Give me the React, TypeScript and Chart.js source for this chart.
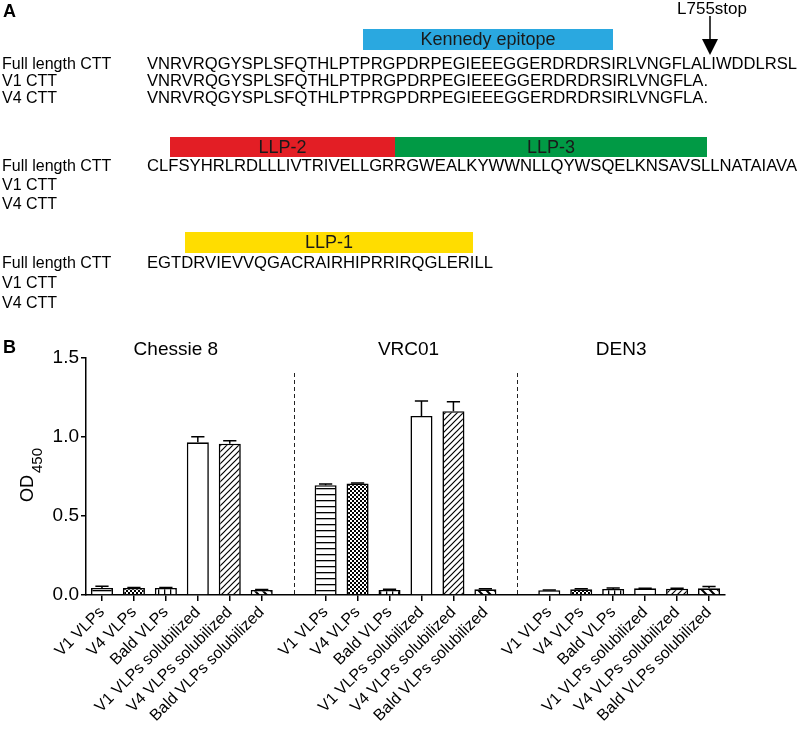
import React, { useEffect, useRef } from 'react';
import { Chart, registerables } from 'chart.js';

Chart.register(...registerables);

// ---------- Panel A data ----------
const rowLabels = ['Full length CTT', 'V1 CTT', 'V4 CTT'];
const block1Seqs = [
  'VNRVRQGYSPLSFQTHLPTPRGPDRPEGIEEEGGERDRDRSIRLVNGFLALIWDDLRSL',
  'VNRVRQGYSPLSFQTHLPTPRGPDRPEGIEEEGGERDRDRSIRLVNGFLA.',
  'VNRVRQGYSPLSFQTHLPTPRGPDRPEGIEEEGGERDRDRSIRLVNGFLA.',
];
const block2Seqs = ['CLFSYHRLRDLLLIVTRIVELLGRRGWEALKYWWNLLQYWSQELKNSAVSLLNATAIAVA', '', ''];
const block3Seqs = ['EGTDRVIEVVQGACRAIRHIPRRIRQGLERILL', '', ''];
const domainNames = ['Kennedy epitope', 'LLP-2', 'LLP-3', 'LLP-1'];
const stopLabel = 'L755stop';

// ---------- Panel B data ----------
const groups = ['Chessie 8', 'VRC01', 'DEN3'];
const categories = [
  'V1 VLPs',
  'V4 VLPs',
  'Bald VLPs',
  'V1 VLPs solubilized',
  'V4 VLPs solubilized',
  'Bald VLPs solubilized',
];
const chessieValues = [0.045, 0.045, 0.045, 0.966, 0.958, 0.032];
const chessieErrors = [0.01, 0.003, 0.002, 0.035, 0.018, 0.003];
const vrc01Values = [0.695, 0.705, 0.032, 1.133, 1.163, 0.036];
const vrc01Errors = [0.008, 0.004, 0.004, 0.095, 0.06, 0.004];
const den3Values = [0.03, 0.036, 0.038, 0.042, 0.04, 0.042];
const den3Errors = [0.002, 0.003, 0.006, 0.001, 0.003, 0.012];
const yTickValues = [0, 0.5, 1.0, 1.5];
const patternKinds = ['hlines', 'checker', 'vlines', 'none', 'diagFwd', 'diagBack'];

const FONT = "'Liberation Sans', Arial, Helvetica, sans-serif";

function makePattern(kind: string): CanvasPattern | string {
  if (kind === 'none') return '#ffffff';
  const c = document.createElement('canvas');
  let s = 6;
  if (kind === 'checker') s = 4;
  if (kind === 'diagBack') s = 8;
  c.width = s;
  c.height = s;
  const g = c.getContext('2d')!;
  g.fillStyle = '#ffffff';
  g.fillRect(0, 0, s, s);
  g.fillStyle = '#000000';
  g.strokeStyle = '#000000';
  if (kind === 'hlines') {
    g.fillRect(0, 2, s, 1.3);
  } else if (kind === 'vlines') {
    g.fillRect(2, 0, 1.3, s);
  } else if (kind === 'checker') {
    g.fillRect(0, 0, 2, 2);
    g.fillRect(2, 2, 2, 2);
  } else if (kind === 'diagFwd') {
    g.lineWidth = 1.2;
    g.beginPath();
    g.moveTo(0, s);
    g.lineTo(s, 0);
    g.moveTo(-1, 1);
    g.lineTo(1, -1);
    g.moveTo(s - 1, s + 1);
    g.lineTo(s + 1, s - 1);
    g.stroke();
  } else if (kind === 'diagBack') {
    g.lineWidth = 2;
    g.beginPath();
    g.moveTo(0, 0);
    g.lineTo(s, s);
    g.moveTo(-1, s - 1);
    g.lineTo(1, s + 1);
    g.moveTo(s - 1, -1);
    g.lineTo(s + 1, 1);
    g.stroke();
  }
  const ctx2 = document.createElement('canvas').getContext('2d')!;
  return ctx2.createPattern(c, 'repeat')!;
}

function fitText(ctx: CanvasRenderingContext2D, text: string, x: number, y: number, width: number) {
  const w = ctx.measureText(text).width;
  ctx.save();
  ctx.translate(x, y);
  ctx.scale(width / w, 1);
  ctx.textAlign = 'left';
  ctx.fillText(text, 0, 0);
  ctx.restore();
}

function drawPanelA(ctx: CanvasRenderingContext2D) {
  ctx.save();
  ctx.fillStyle = '#000';
  ctx.textBaseline = 'middle';
  ctx.font = `bold 18px ${FONT}`;
  ctx.textAlign = 'left';
  ctx.fillText('A', 3, 12);

  // domain bars
  const bars = [
    { name: domainNames[0], x0: 363, x1: 613, y0: 29, y1: 50, color: '#2aa8e0' },
    { name: domainNames[1], x0: 170, x1: 395, y0: 137, y1: 157, color: '#e31e25' },
    { name: domainNames[2], x0: 395, x1: 707, y0: 137, y1: 157, color: '#019a45' },
    { name: domainNames[3], x0: 185, x1: 473, y0: 232, y1: 253, color: '#ffdd00' },
  ];
  bars.forEach((b) => {
    ctx.fillStyle = b.color;
    ctx.fillRect(b.x0, b.y0, b.x1 - b.x0, b.y1 - b.y0);
    ctx.fillStyle = '#1a1a1a';
    ctx.font = `18px ${FONT}`;
    ctx.textAlign = 'center';
    ctx.fillText(b.name, (b.x0 + b.x1) / 2, (b.y0 + b.y1) / 2 + 1);
  });

  // stop arrow
  ctx.fillStyle = '#000';
  ctx.font = `17px ${FONT}`;
  ctx.textAlign = 'center';
  ctx.fillText(stopLabel, 712, 9);
  ctx.strokeStyle = '#000';
  ctx.lineWidth = 1.5;
  ctx.beginPath();
  ctx.moveTo(710, 16);
  ctx.lineTo(710, 42);
  ctx.stroke();
  ctx.beginPath();
  ctx.moveTo(702, 39);
  ctx.lineTo(718, 39);
  ctx.lineTo(710, 55);
  ctx.closePath();
  ctx.fill();

  // rows
  ctx.font = `16px ${FONT}`;
  ctx.textAlign = 'left';
  const rowYs = [
    [65, 82, 98.5],
    [166.5, 186, 205],
    [264, 284, 304],
  ];
  const blocks = [block1Seqs, block2Seqs, block3Seqs];
  const widths = [
    [650, 561, 561],
    [650, 0, 0],
    [346, 0, 0],
  ];
  blocks.forEach((blk, bi) => {
    rowLabels.forEach((lab, ri) => {
      const y = rowYs[bi][ri];
      ctx.fillText(lab, 2, y);
      if (blk[ri]) fitText(ctx, blk[ri], 147, y, widths[bi][ri]);
    });
  });
  ctx.restore();
}

const App: React.FC = () => {
  const ref = useRef<HTMLCanvasElement | null>(null);

  useEffect(() => {
    if (!ref.current) return;
    const labels: string[] = [];
    const values: (number | null)[] = [];
    const errors: (number | null)[] = [];
    const colors: (CanvasPattern | string)[] = [];
    const pats = patternKinds.map(makePattern);
    const groupVals = [chessieValues, vrc01Values, den3Values];
    const groupErrs = [chessieErrors, vrc01Errors, den3Errors];
    const separators: number[] = [];
    groupVals.forEach((vals, gi) => {
      if (gi > 0) {
        separators.push(labels.length);
        labels.push('');
        values.push(null);
        errors.push(null);
        colors.push('#fff');
      }
      vals.forEach((v, i) => {
        labels.push(categories[i]);
        values.push(v);
        errors.push(groupErrs[gi][i]);
        colors.push(pats[i]);
      });
    });

    const panelAPlugin = {
      id: 'panelA',
      beforeDraw(chart: any) {
        const ctx = chart.ctx as CanvasRenderingContext2D;
        ctx.save();
        ctx.fillStyle = '#fff';
        ctx.fillRect(0, 0, chart.width, chart.height);
        ctx.restore();
        drawPanelA(ctx);
      },
    };

    const titleShift = [-6, 3, -8];

    const decorPlugin = {
      id: 'decor',
      afterDatasetsDraw(chart: any) {
        const ctx = chart.ctx as CanvasRenderingContext2D;
        const xs = chart.scales.x;
        const ys = chart.scales.y;
        const meta = chart.getDatasetMeta(0);
        ctx.save();
        // error bars
        ctx.strokeStyle = '#000';
        ctx.lineWidth = 1.5;
        values.forEach((v, i) => {
          const e = errors[i];
          if (v == null || e == null || e <= 0) return;
          const bar = meta.data[i];
          const yTop = ys.getPixelForValue(v + e);
          const cap = bar.width * 0.3;
          ctx.beginPath();
          ctx.moveTo(bar.x, bar.y);
          ctx.lineTo(bar.x, yTop);
          ctx.moveTo(bar.x - cap, yTop);
          ctx.lineTo(bar.x + cap, yTop);
          ctx.stroke();
        });
        // dashed separators
        ctx.setLineDash([4, 3]);
        ctx.lineWidth = 1;
        ctx.strokeStyle = '#222';
        separators.forEach((si) => {
          const x = Math.round(xs.getPixelForValue(si)) + 0.5;
          ctx.beginPath();
          ctx.moveTo(x, ys.getPixelForValue(1.405));
          ctx.lineTo(x, chart.chartArea.bottom);
          ctx.stroke();
        });
        ctx.setLineDash([]);
        // group titles
        ctx.fillStyle = '#000';
        ctx.font = `19px ${FONT}`;
        ctx.textAlign = 'center';
        ctx.textBaseline = 'middle';
        groups.forEach((g, gi) => {
          const first = gi * 7;
          const last = first + 5;
          const cx = (xs.getPixelForValue(first) + xs.getPixelForValue(last)) / 2;
          ctx.fillText(g, cx + titleShift[gi], chart.chartArea.top - 8);
        });
        // panel label B
        ctx.font = `bold 18px ${FONT}`;
        ctx.textAlign = 'left';
        ctx.fillText('B', 3, chart.chartArea.top - 10);
        // y title OD450
        ctx.save();
        ctx.translate(33, 502);
        ctx.rotate(-Math.PI / 2);
        ctx.textAlign = 'left';
        ctx.textBaseline = 'alphabetic';
        ctx.font = `18px ${FONT}`;
        ctx.fillText('OD', 0, 0);
        const w = ctx.measureText('OD').width;
        ctx.font = `15px ${FONT}`;
        ctx.fillText('450', w + 2, 9);
        ctx.restore();
        ctx.restore();
      },
    };

    const chart = new Chart(ref.current, {
      type: 'bar',
      data: {
        labels,
        datasets: [
          {
            data: values as any,
            backgroundColor: colors as any,
            borderColor: '#000',
            borderWidth: 1.6,
            categoryPercentage: 1,
            barPercentage: 0.69,
          },
        ],
      },
      options: {
        animation: false,
        responsive: false,
        maintainAspectRatio: false,
        devicePixelRatio: 1,
        layout: { padding: { top: 358, left: 0, right: 75, bottom: 0 } },
        plugins: {
          legend: { display: false },
          tooltip: { enabled: false },
        },
        scales: {
          x: {
            offset: true,
            afterFit: (s: any) => {
              s.height = 135;
            },
            grid: {
              offset: false,
              drawOnChartArea: false,
              drawTicks: true,
              tickLength: 6,
              lineWidth: 1.5,
              color: (c: any) => (separators.includes(c.index) ? 'rgba(0,0,0,0)' : '#000'),
            },
            border: { display: true, color: '#000', width: 1.5 },
            ticks: {
              autoSkip: false,
              maxRotation: 45,
              minRotation: 45,
              padding: 2,
              color: '#000',
              font: { family: FONT, size: 16 },
            },
          },
          y: {
            min: 0,
            max: 1.5,
            afterFit: (s: any) => {
              s.width = 86;
            },
            afterBuildTicks: (s: any) => {
              s.ticks = yTickValues.map((v) => ({ value: v }));
            },
            grid: {
              drawOnChartArea: false,
              drawTicks: true,
              tickLength: 5,
              lineWidth: 1.5,
              color: '#000',
            },
            border: { display: true, color: '#000', width: 1.5 },
            ticks: {
              padding: 2,
              color: '#000',
              font: { family: FONT, size: 19 },
              callback: (v: any) => Number(v).toFixed(1),
            },
          },
        },
      },
      plugins: [panelAPlugin, decorPlugin],
    });
    return () => chart.destroy();
  }, []);

  return (
    <div style={{ position: 'absolute', left: 0, top: 0, width: 800, height: 730, background: '#fff' }}>
      <canvas ref={ref} width={800} height={730} style={{ width: 800, height: 730, display: 'block' }} />
    </div>
  );
};

export default App;
